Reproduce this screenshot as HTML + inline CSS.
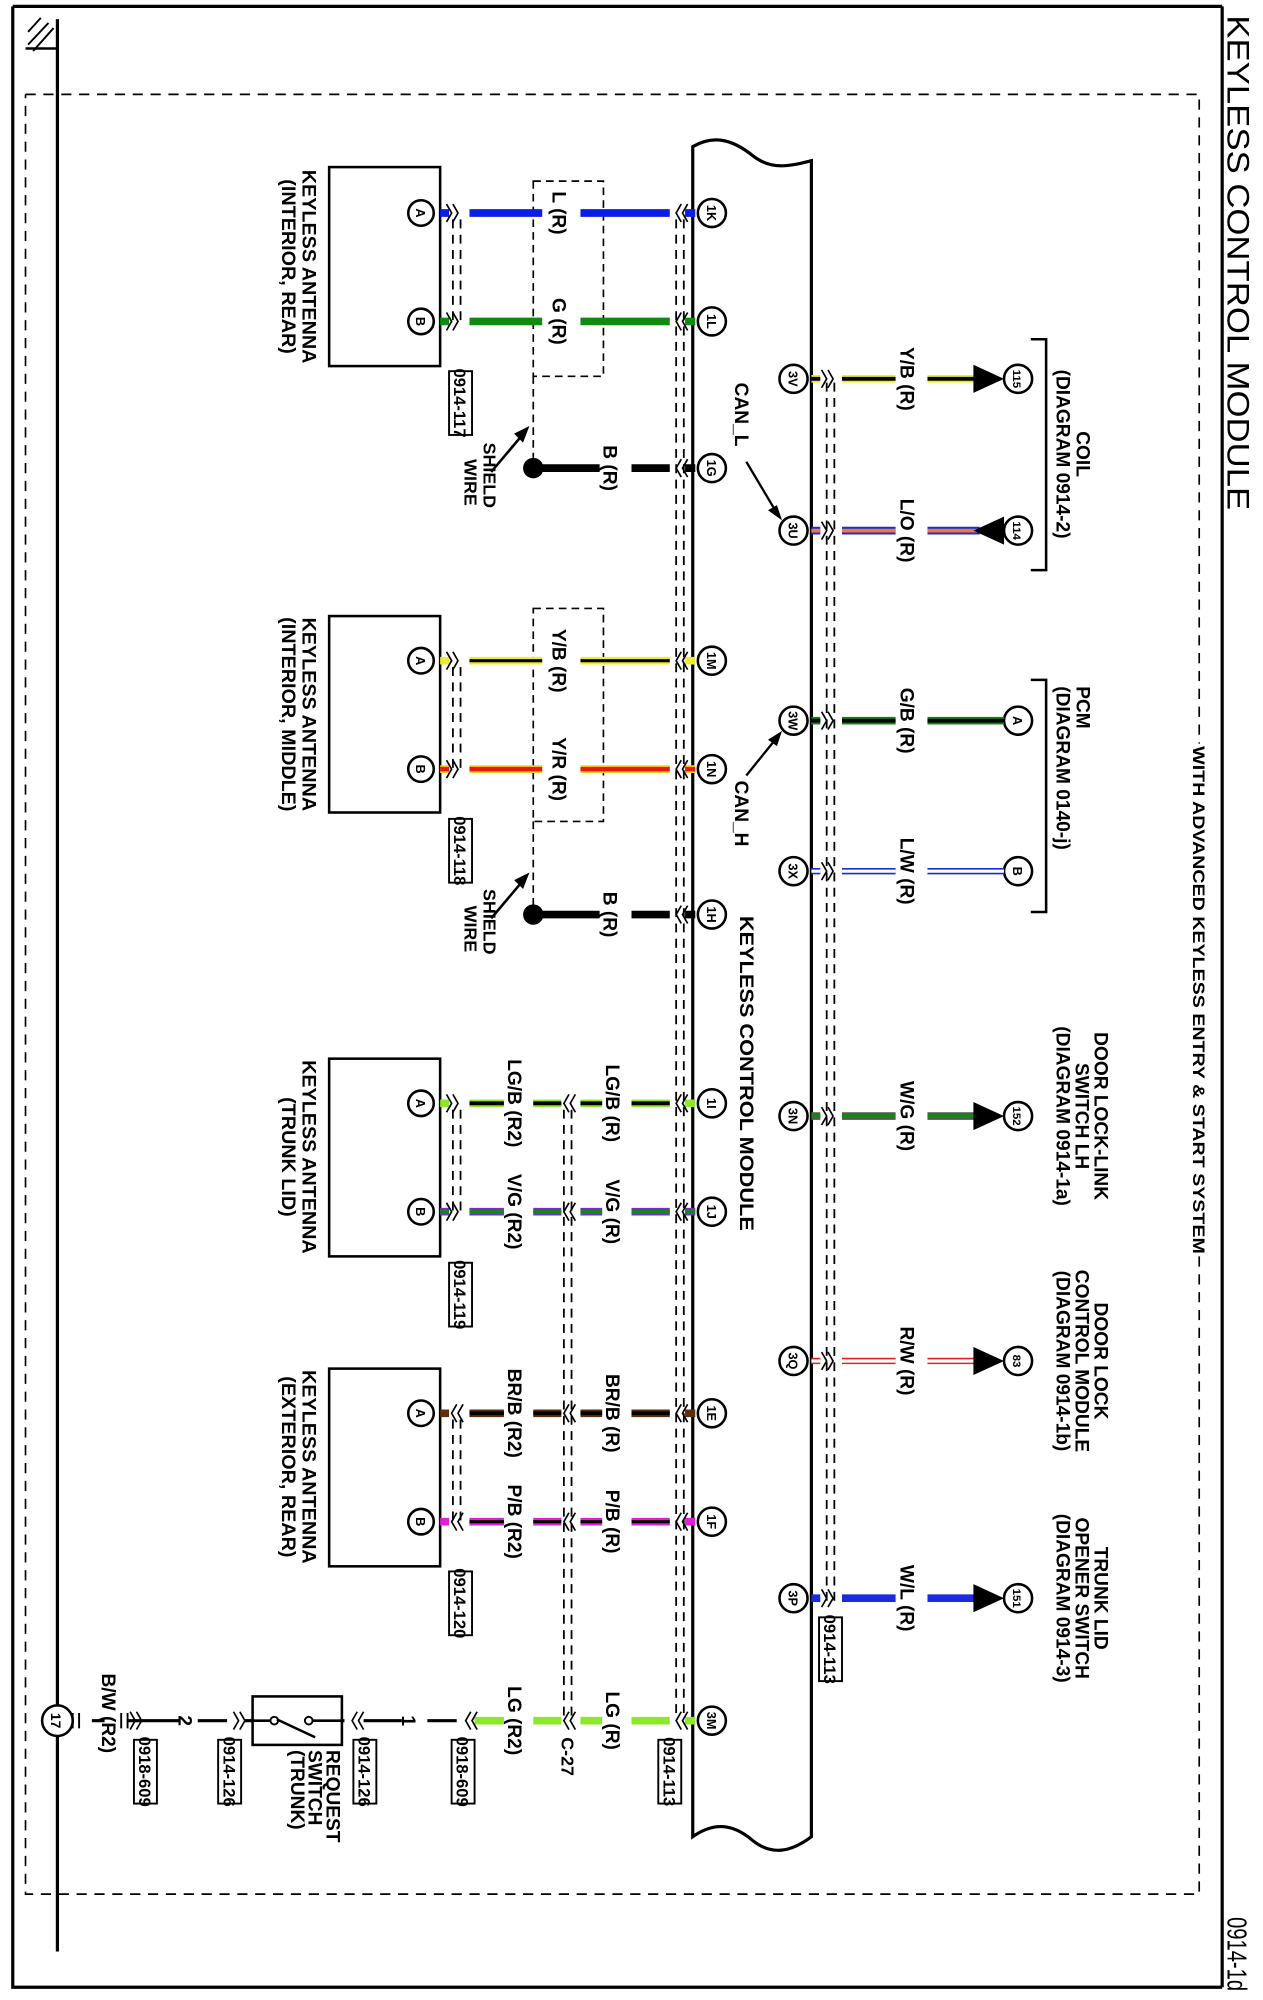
<!DOCTYPE html>
<html><head><meta charset="utf-8"><style>
html,body{margin:0;padding:0;background:#fff;}
svg{display:block;}
text{font-family:"Liberation Sans Narrow","Liberation Sans",sans-serif;font-weight:bold;fill:#000;}
</style></head><body>
<svg width="1263" height="2000" viewBox="0 0 990 1568" preserveAspectRatio="none" xmlns="http://www.w3.org/2000/svg">
<rect width="990" height="1568" fill="#fff"/>
<path d="M10 5 H958 M10 5 V1558 H958" stroke="#000" stroke-width="2.5" fill="none"/>
<line x1="958" y1="5" x2="958" y2="1558" stroke="#000" stroke-width="2.5"/>
<path d="M20 74 H940 V583 M940 985 V1485 H20 V74" stroke="#000" stroke-width="1.3" stroke-dasharray="8,6" fill="none"/>
<text transform="translate(935,585) rotate(90)" font-size="13" textLength="398" lengthAdjust="spacingAndGlyphs">WITH ADVANCED KEYLESS ENTRY &amp; START SYSTEM</text>
<text transform="translate(962,12) rotate(90)" font-size="25" style="font-weight:normal" textLength="388" lengthAdjust="spacingAndGlyphs">KEYLESS CONTROL MODULE</text>
<text transform="translate(962,1503) rotate(90)" font-size="22" style="font-weight:normal" textLength="58" lengthAdjust="spacingAndGlyphs">0914-1d</text>
<line x1="45" y1="15" x2="45" y2="1530" stroke="#000" stroke-width="2.5"/>
<line x1="20" y1="38" x2="45" y2="38" stroke="#000" stroke-width="2"/>
<path d="M22 25 L32 14 M22 35 L38 18 M26 40 L42 22" stroke="#000" stroke-width="1.5"/>
<path d="M543 115 C560 105 575 110 590 122 C605 134 620 130 636 126 V1440 C620 1452 605 1455 590 1443 C575 1430 560 1428 543 1440 Z" fill="#fff" stroke="#000" stroke-width="2.5"/>
<text transform="translate(580,718) rotate(90)" font-size="15" textLength="247" lengthAdjust="spacingAndGlyphs">KEYLESS CONTROL MODULE</text>
<g stroke="#000" stroke-width="1.4" stroke-dasharray="7,5">
<line x1="530" y1="172" x2="530" y2="1345"/><line x1="536" y1="172" x2="536" y2="1345"/>
<line x1="648" y1="300" x2="648" y2="1258"/><line x1="654" y1="300" x2="654" y2="1258"/>
<line x1="442" y1="870" x2="442" y2="1345"/><line x1="448" y1="870" x2="448" y2="1345"/>
<line x1="355" y1="172" x2="355" y2="252"/><line x1="361" y1="172" x2="361" y2="252"/>
<line x1="355" y1="523" x2="355" y2="603"/><line x1="361" y1="523" x2="361" y2="603"/>
<line x1="355" y1="870" x2="355" y2="950"/><line x1="361" y1="870" x2="361" y2="950"/>
<line x1="355" y1="1113" x2="355" y2="1193"/><line x1="361" y1="1113" x2="361" y2="1193"/>
</g>
<g stroke="#000" stroke-width="1.3" stroke-dasharray="6,4" fill="none">
<rect x="418" y="142" width="55" height="153"/>
<rect x="418" y="477" width="55" height="167"/>
<line x1="418" y1="295" x2="418" y2="362"/>
<line x1="418" y1="644" x2="418" y2="712"/>
</g>
<g stroke="#000" stroke-width="2" fill="#fff">
<rect x="258" y="131" width="87" height="156"/>
<rect x="258" y="483" width="87" height="154"/>
<rect x="258" y="830" width="87" height="155"/>
<rect x="258" y="1073" width="87" height="155"/>
</g>
<g font-size="15.5">
<text transform="translate(237,209) rotate(90)" text-anchor="middle">KEYLESS ANTENNA</text>
<text transform="translate(221,209) rotate(90)" text-anchor="middle">(INTERIOR, REAR)</text>
<text transform="translate(237,560) rotate(90)" text-anchor="middle">KEYLESS ANTENNA</text>
<text transform="translate(221,560) rotate(90)" text-anchor="middle">(INTERIOR, MIDDLE)</text>
<text transform="translate(237,907) rotate(90)" text-anchor="middle">KEYLESS ANTENNA</text>
<text transform="translate(221,907) rotate(90)" text-anchor="middle">(TRUNK LID)</text>
<text transform="translate(237,1150) rotate(90)" text-anchor="middle">KEYLESS ANTENNA</text>
<text transform="translate(221,1150) rotate(90)" text-anchor="middle">(EXTERIOR, REAR)</text>
</g>
<g stroke-linecap="butt">
<path d="M345 167 H352 M368 167 H425 M455 167 H525 M537 167 H545" stroke="#0a1ee6" stroke-width="6"/>
<path d="M345 252 H352 M368 252 H425 M455 252 H525 M537 252 H545" stroke="#108a10" stroke-width="6"/>
<path d="M418 367 H470 M495 367 H525 M537 367 H545" stroke="#000" stroke-width="6"/>
<path d="M345 518 H352 M368 518 H425 M455 518 H525 M537 518 H545" stroke="#f0ea30" stroke-width="6"/>
<path d="M368 518 H425 M455 518 H525" stroke="#000" stroke-width="2.5"/>
<path d="M345 603 H352 M368 603 H425 M455 603 H525 M537 603 H545" stroke="#f7d21a" stroke-width="6"/>
<path d="M345 603 H352 M368 603 H425 M455 603 H525 M537 603 H545" stroke="#e51a10" stroke-width="3.5"/>
<path d="M418 717 H470 M495 717 H525 M537 717 H545" stroke="#000" stroke-width="6"/>
<path d="M345 865 H352 M368 865 H395 M418 865 H440 M455 865 H472 M495 865 H525 M537 865 H545" stroke="#8ee82a" stroke-width="6"/>
<path d="M368 865 H395 M418 865 H440 M455 865 H472 M495 865 H525" stroke="#000" stroke-width="3"/>
<path d="M345 950 H352 M368 950 H395 M418 950 H440 M455 950 H472 M495 950 H525 M537 950 H545" stroke="#7a28d8" stroke-width="6"/>
<path d="M345 950 H352 M368 950 H395 M418 950 H440 M455 950 H472 M495 950 H525 M537 950 H545" stroke="#108a10" stroke-width="3"/>
<path d="M345 1108 H352 M368 1108 H395 M418 1108 H440 M455 1108 H472 M495 1108 H525 M537 1108 H545" stroke="#5a3010" stroke-width="6"/>
<path d="M368 1108 H395 M418 1108 H440 M455 1108 H472 M495 1108 H525" stroke="#000" stroke-width="3"/>
<path d="M345 1193 H352 M368 1193 H395 M418 1193 H440 M455 1193 H472 M495 1193 H525 M537 1193 H545" stroke="#e020d8" stroke-width="6"/>
<path d="M368 1193 H395 M418 1193 H440 M455 1193 H472 M495 1193 H525" stroke="#000" stroke-width="2.5"/>
<path d="M372 1349 H395 M418 1349 H440 M455 1349 H472 M495 1349 H525 M537 1349 H545" stroke="#8ee82a" stroke-width="6"/>
<path d="M45 1349 H58 M72 1349 H82 M100 1349 H140 M155 1349 H178 M192 1349 H270 M285 1349 H315 M335 1349 H358" stroke="#000" stroke-width="2.5"/>
</g>
<circle cx="418" cy="367" r="8"/><circle cx="418" cy="717" r="8"/>
<g stroke="#000" stroke-width="2">
<line x1="385" y1="370" x2="412" y2="338"/><line x1="385" y1="720" x2="412" y2="688"/>
</g>
<polygon points="415,334 403,340 410,347"/><polygon points="415,684 403,690 410,697"/>
<g font-size="14">
<text transform="translate(379,347) rotate(90)">SHIELD</text>
<text transform="translate(364,360) rotate(90)">WIRE</text>
<text transform="translate(379,697) rotate(90)">SHIELD</text>
<text transform="translate(364,710) rotate(90)">WIRE</text>
</g>
<g stroke="#000" stroke-width="1.3" fill="none">
<path d="M350 160 l4 7 l-4 7 M355 160 l4 7 l-4 7"/>
<path d="M350 245 l4 7 l-4 7 M355 245 l4 7 l-4 7"/>
<path d="M350 511 l4 7 l-4 7 M355 511 l4 7 l-4 7"/>
<path d="M350 596 l4 7 l-4 7 M355 596 l4 7 l-4 7"/>
<path d="M350 858 l4 7 l-4 7 M355 858 l4 7 l-4 7"/>
<path d="M350 943 l4 7 l-4 7 M355 943 l4 7 l-4 7"/>
<path d="M358 1101 l-4 7 l4 7 M363 1101 l-4 7 l4 7"/>
<path d="M358 1186 l-4 7 l4 7 M363 1186 l-4 7 l4 7"/>
<path d="M534 160 l-4 7 l4 7 M539 160 l-4 7 l4 7"/>
<path d="M534 245 l-4 7 l4 7 M539 245 l-4 7 l4 7"/>
<path d="M534 360 l-4 7 l4 7 M539 360 l-4 7 l4 7"/>
<path d="M534 511 l-4 7 l4 7 M539 511 l-4 7 l4 7"/>
<path d="M534 596 l-4 7 l4 7 M539 596 l-4 7 l4 7"/>
<path d="M534 710 l-4 7 l4 7 M539 710 l-4 7 l4 7"/>
<path d="M534 858 l-4 7 l4 7 M539 858 l-4 7 l4 7"/>
<path d="M534 943 l-4 7 l4 7 M539 943 l-4 7 l4 7"/>
<path d="M534 1101 l-4 7 l4 7 M539 1101 l-4 7 l4 7"/>
<path d="M534 1186 l-4 7 l4 7 M539 1186 l-4 7 l4 7"/>
<path d="M534 1342 l-4 7 l4 7 M539 1342 l-4 7 l4 7"/>
<path d="M446 858 l-4 7 l4 7 M451 858 l-4 7 l4 7"/>
<path d="M446 943 l-4 7 l4 7 M451 943 l-4 7 l4 7"/>
<path d="M446 1101 l-4 7 l4 7 M451 1101 l-4 7 l4 7"/>
<path d="M446 1186 l-4 7 l4 7 M451 1186 l-4 7 l4 7"/>
<path d="M446 1342 l-4 7 l4 7 M451 1342 l-4 7 l4 7"/>
<path d="M369 1342 l-4 7 l4 7 M374 1342 l-4 7 l4 7"/>
<path d="M280 1342 l-4 7 l4 7 M285 1342 l-4 7 l4 7"/>
<path d="M183 1342 l4 7 l-4 7 M188 1342 l4 7 l-4 7"/>
<path d="M102 1342 l4 7 l-4 7 M107 1342 l4 7 l-4 7"/>
<path d="M644 290 l4 7 l-4 7 M649 290 l4 7 l-4 7"/>
<path d="M644 409 l4 7 l-4 7 M649 409 l4 7 l-4 7"/>
<path d="M644 558 l4 7 l-4 7 M649 558 l4 7 l-4 7"/>
<path d="M644 676 l4 7 l-4 7 M649 676 l4 7 l-4 7"/>
<path d="M644 868 l4 7 l-4 7 M649 868 l4 7 l-4 7"/>
<path d="M644 1060 l4 7 l-4 7 M649 1060 l4 7 l-4 7"/>
<path d="M644 1246 l4 7 l-4 7 M649 1246 l4 7 l-4 7"/>
</g>
<path d="M57 1343 V1355 M62 1343 V1355 M95 1343 V1355 M100 1343 V1355" stroke="#000" stroke-width="1.5"/>
<circle cx="45" cy="1349" r="12" fill="#fff" stroke="#000" stroke-width="2"/>
<text transform="translate(40,1349) rotate(90)" font-size="11" text-anchor="middle">17</text>
<rect x="198" y="1330" width="70" height="38" fill="#fff" stroke="#000" stroke-width="2"/>
<path d="M192 1349 H214 M240 1349 H268" stroke="#000" stroke-width="2"/>
<circle cx="215" cy="1349" r="3" fill="#fff" stroke="#000" stroke-width="1.5"/>
<circle cx="242" cy="1349" r="3" fill="#fff" stroke="#000" stroke-width="1.5"/>
<line x1="217" y1="1348" x2="247" y2="1362" stroke="#000" stroke-width="2"/>
<g font-size="15">
<text transform="translate(256,1372) rotate(90)">REQUEST</text>
<text transform="translate(242,1372) rotate(90)">SWITCH</text>
<text transform="translate(228,1372) rotate(90)">(TRUNK)</text>
<text transform="translate(140,1349) rotate(90)" text-anchor="middle">2</text>
<text transform="translate(315,1349) rotate(90)" text-anchor="middle">1</text>
<text transform="translate(80,1312) rotate(90)">B/W (R2)</text>
</g>
<g fill="#fff" stroke="#000" stroke-width="2">
<circle cx="558" cy="167" r="11"/><circle cx="558" cy="252" r="11"/><circle cx="558" cy="367" r="11"/>
<circle cx="558" cy="518" r="11"/><circle cx="558" cy="603" r="11"/><circle cx="558" cy="717" r="11"/>
<circle cx="558" cy="865" r="11"/><circle cx="558" cy="950" r="11"/><circle cx="558" cy="1108" r="11"/>
<circle cx="558" cy="1193" r="11"/><circle cx="558" cy="1349" r="11"/>
<circle cx="622" cy="297" r="11"/><circle cx="622" cy="416" r="11"/><circle cx="622" cy="565" r="11"/>
<circle cx="622" cy="683" r="11"/><circle cx="622" cy="875" r="11"/><circle cx="622" cy="1067" r="11"/>
<circle cx="622" cy="1253" r="11"/>
<circle cx="330" cy="167" r="10"/><circle cx="330" cy="252" r="10"/><circle cx="330" cy="518" r="10"/>
<circle cx="330" cy="603" r="10"/><circle cx="330" cy="865" r="10"/><circle cx="330" cy="950" r="10"/>
<circle cx="330" cy="1108" r="10"/><circle cx="330" cy="1193" r="10"/>
<circle cx="798" cy="297" r="11"/><circle cx="798" cy="416" r="11"/><circle cx="798" cy="565" r="11"/>
<circle cx="798" cy="683" r="11"/><circle cx="798" cy="875" r="11"/><circle cx="798" cy="1067" r="11"/>
<circle cx="798" cy="1253" r="11"/>
</g>
<g font-size="10" text-anchor="middle">
<text transform="translate(554,167) rotate(90)">1K</text><text transform="translate(554,252) rotate(90)">1L</text>
<text transform="translate(554,367) rotate(90)">1G</text><text transform="translate(554,518) rotate(90)">1M</text>
<text transform="translate(554,603) rotate(90)">1N</text><text transform="translate(554,717) rotate(90)">1H</text>
<text transform="translate(554,865) rotate(90)">1I</text><text transform="translate(554,950) rotate(90)">1J</text>
<text transform="translate(554,1108) rotate(90)">1E</text><text transform="translate(554,1193) rotate(90)">1F</text>
<text transform="translate(554,1349) rotate(90)">3M</text>
<text transform="translate(618,297) rotate(90)">3V</text><text transform="translate(618,416) rotate(90)">3U</text>
<text transform="translate(618,565) rotate(90)">3W</text><text transform="translate(618,683) rotate(90)">3X</text>
<text transform="translate(618,875) rotate(90)">3N</text><text transform="translate(618,1067) rotate(90)">3Q</text>
<text transform="translate(618,1253) rotate(90)">3P</text>
<text transform="translate(326,167) rotate(90)">A</text><text transform="translate(326,252) rotate(90)">B</text>
<text transform="translate(326,518) rotate(90)">A</text><text transform="translate(326,603) rotate(90)">B</text>
<text transform="translate(326,865) rotate(90)">A</text><text transform="translate(326,950) rotate(90)">B</text>
<text transform="translate(326,1108) rotate(90)">A</text><text transform="translate(326,1193) rotate(90)">B</text>
<text transform="translate(794,297) rotate(90)" font-size="9">115</text><text transform="translate(794,416) rotate(90)" font-size="9">114</text>
<text transform="translate(794,565) rotate(90)">A</text><text transform="translate(794,683) rotate(90)">B</text>
<text transform="translate(794,875) rotate(90)" font-size="9">152</text><text transform="translate(794,1067) rotate(90)" font-size="9">83</text>
<text transform="translate(794,1253) rotate(90)" font-size="9">151</text>
</g>
<g>
<path d="M636 297 H643 M660 297 H702 M727 297 H765" stroke="#f0ea30" stroke-width="6"/>
<path d="M636 297 H643 M660 297 H702 M727 297 H765" stroke="#000" stroke-width="3"/>
<path d="M636 416 H643 M660 416 H702 M727 416 H768" stroke="#1a2ae0" stroke-width="6"/>
<path d="M636 416 H643 M660 416 H702 M727 416 H768" stroke="#f07a30" stroke-width="3"/>
<path d="M636 565 H643 M660 565 H702 M727 565 H787" stroke="#108a10" stroke-width="6"/>
<path d="M636 565 H643 M660 565 H702 M727 565 H787" stroke="#000" stroke-width="3"/>
<path d="M636 683 H643 M660 683 H702 M727 683 H787" stroke="#1a2ae0" stroke-width="5"/>
<path d="M636 683 H643 M660 683 H702 M727 683 H787" stroke="#fff" stroke-width="2.5"/>
<path d="M636 875 H643 M660 875 H702 M727 875 H765" stroke="#555" stroke-width="6"/>
<path d="M636 875 H643 M660 875 H702 M727 875 H765" stroke="#108a10" stroke-width="3"/>
<path d="M636 1067 H643 M660 1067 H702 M727 1067 H765" stroke="#e52020" stroke-width="5"/>
<path d="M636 1067 H643 M660 1067 H702 M727 1067 H765" stroke="#fff" stroke-width="2.5"/>
<path d="M636 1253 H643 M660 1253 H702 M727 1253 H765" stroke="#1a2ae0" stroke-width="6"/>
</g>
<g>
<polygon points="763,286 763,308 787,297"/>
<polygon points="763,416 787,405 787,427"/>
<polygon points="763,864 763,886 787,875"/>
<polygon points="763,1056 763,1078 787,1067"/>
<polygon points="763,1242 763,1264 787,1253"/>
</g>
<g font-size="15" text-anchor="middle">
<text transform="translate(706,297) rotate(90)">Y/B (R)</text>
<text transform="translate(706,416) rotate(90)">L/O (R)</text>
<text transform="translate(706,565) rotate(90)">G/B (R)</text>
<text transform="translate(706,683) rotate(90)">L/W (R)</text>
<text transform="translate(706,875) rotate(90)">W/G (R)</text>
<text transform="translate(706,1067) rotate(90)">R/W (R)</text>
<text transform="translate(706,1253) rotate(90)">W/L (R)</text>
<text transform="translate(433,167) rotate(90)">L (R)</text>
<text transform="translate(433,252) rotate(90)">G (R)</text>
<text transform="translate(473,367) rotate(90)">B (R)</text>
<text transform="translate(433,518) rotate(90)">Y/B (R)</text>
<text transform="translate(433,603) rotate(90)">Y/R (R)</text>
<text transform="translate(473,717) rotate(90)">B (R)</text>
<text transform="translate(475,865) rotate(90)">LG/B (R)</text>
<text transform="translate(398,865) rotate(90)">LG/B (R2)</text>
<text transform="translate(475,950) rotate(90)">V/G (R)</text>
<text transform="translate(398,950) rotate(90)">V/G (R2)</text>
<text transform="translate(475,1108) rotate(90)">BR/B (R)</text>
<text transform="translate(398,1108) rotate(90)">BR/B (R2)</text>
<text transform="translate(475,1193) rotate(90)">P/B (R)</text>
<text transform="translate(398,1193) rotate(90)">P/B (R2)</text>
<text transform="translate(475,1349) rotate(90)">LG (R)</text>
<text transform="translate(398,1349) rotate(90)">LG (R2)</text>
</g>
<text transform="translate(440,1362) rotate(90)" font-size="14">C-27</text>
<text transform="translate(576,300) rotate(90)" font-size="15">CAN_L</text>
<line x1="585" y1="362" x2="610" y2="404" stroke="#000" stroke-width="1.8"/>
<polygon points="613,408 602,400 609,396"/>
<text transform="translate(576,612) rotate(90)" font-size="15">CAN_H</text>
<line x1="585" y1="608" x2="610" y2="577" stroke="#000" stroke-width="1.8"/>
<polygon points="613,573 602,580 609,585"/>
<path d="M808 266 H820 V447 H808 M808 533 H820 V715 H808" stroke="#000" stroke-width="2" fill="none"/>
<g font-size="15">
<text transform="translate(844,356) rotate(90)" text-anchor="middle">COIL</text>
<text transform="translate(828,356) rotate(90)" text-anchor="middle">(DIAGRAM 0914-2)</text>
<text transform="translate(844,538) rotate(90)">PCM</text>
<text transform="translate(828,538) rotate(90)">(DIAGRAM 0140-j)</text>
<text transform="translate(858,875) rotate(90)" text-anchor="middle">DOOR LOCK-LINK</text>
<text transform="translate(843,875) rotate(90)" text-anchor="middle">SWITCH LH</text>
<text transform="translate(828,875) rotate(90)" text-anchor="middle">(DIAGRAM 0914-1a)</text>
<text transform="translate(858,1067) rotate(90)" text-anchor="middle">DOOR LOCK</text>
<text transform="translate(843,1067) rotate(90)" text-anchor="middle">CONTROL MODULE</text>
<text transform="translate(828,1067) rotate(90)" text-anchor="middle">(DIAGRAM 0914-1b)</text>
<text transform="translate(858,1253) rotate(90)" text-anchor="middle">TRUNK LID</text>
<text transform="translate(843,1253) rotate(90)" text-anchor="middle">OPENER SWITCH</text>
<text transform="translate(828,1253) rotate(90)" text-anchor="middle">(DIAGRAM 0914-3)</text>
</g>
<g fill="#fff" stroke="#000" stroke-width="1.5">
<rect x="352" y="291" width="18" height="50"/>
<rect x="352" y="642" width="18" height="50"/>
<rect x="352" y="990" width="18" height="50"/>
<rect x="352" y="1232" width="18" height="50"/>
<rect x="516" y="1364" width="18" height="50"/>
<rect x="642" y="1268" width="18" height="50"/>
<rect x="354" y="1364" width="18" height="50"/>
<rect x="277" y="1364" width="18" height="50"/>
<rect x="171" y="1364" width="18" height="50"/>
<rect x="105" y="1364" width="18" height="50"/>
</g>
<g font-size="13" text-anchor="middle">
<text transform="translate(356,316) rotate(90)">0914-117</text>
<text transform="translate(356,667) rotate(90)">0914-118</text>
<text transform="translate(356,1015) rotate(90)">0914-119</text>
<text transform="translate(356,1257) rotate(90)">0914-120</text>
<text transform="translate(520,1389) rotate(90)">0914-113</text>
<text transform="translate(646,1293) rotate(90)">0914-113</text>
<text transform="translate(358,1389) rotate(90)">0918-609</text>
<text transform="translate(281,1389) rotate(90)">0914-126</text>
<text transform="translate(175,1389) rotate(90)">0914-126</text>
<text transform="translate(109,1389) rotate(90)">0918-609</text>
</g>
</svg>
</body></html>
